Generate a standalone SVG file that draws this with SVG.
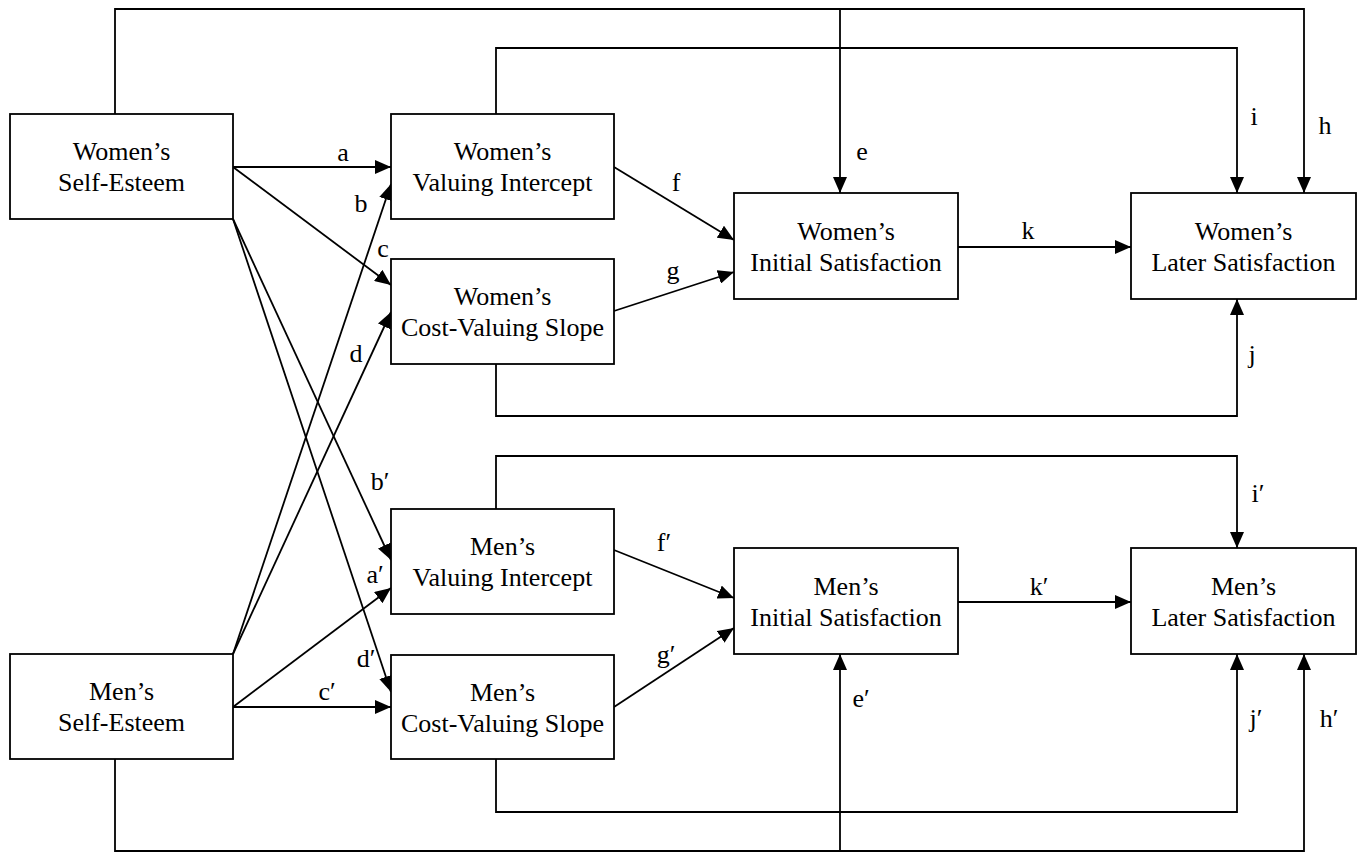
<svg xmlns="http://www.w3.org/2000/svg" width="1360" height="852" viewBox="0 0 1360 852">
<style>
.box{fill:#fff;stroke:#000;stroke-width:1.8}
.t{font-family:"Liberation Serif","Times New Roman",serif;font-size:26px;text-anchor:middle;fill:#000}
.lbl{font-family:"Liberation Serif","Times New Roman",serif;font-size:26px;text-anchor:middle;fill:#000}
.c{fill:none;stroke:#000;stroke-width:1.8}
.a{marker-end:url(#arr)}
</style>
<defs>
<marker id="arr" markerUnits="userSpaceOnUse" markerWidth="16" markerHeight="14" viewBox="0 0 16 14" refX="16" refY="7" orient="auto">
<path d="M0,0 L16,7 L0,14 Z" fill="#000"/>
</marker>
</defs>
<g id="connectors">
<path class="c a" d="M115,114 V9 H1304 V193"/>
<path class="c a" d="M840,9 V193"/>
<path class="c a" d="M496,114 V48 H1237 V193"/>
<path class="c a" d="M496,364 V416 H1237 V299"/>
<path class="c a" d="M496,509 V456 H1237 V548"/>
<path class="c a" d="M496,759 V812 H1237 V654"/>
<path class="c a" d="M115,759 V851 H1304 V654"/>
<path class="c a" d="M840,851 V654"/>
<path class="c a" d="M233,167 L391,167"/>
<path class="c a" d="M233,654 L391,184"/>
<path class="c a" d="M233,167 L391,285"/>
<path class="c a" d="M233,654 L391,312"/>
<path class="c a" d="M233,219 L391,560"/>
<path class="c a" d="M233,707 L391,588"/>
<path class="c a" d="M233,219 L391,692"/>
<path class="c a" d="M233,707 L391,707"/>
<path class="c a" d="M614,167 L734,240"/>
<path class="c a" d="M614,311 L734,272"/>
<path class="c a" d="M614,550 L734,598"/>
<path class="c a" d="M614,707 L734,628"/>
<path class="c a" d="M958,247 H1131"/>
<path class="c a" d="M958,602 H1131"/>
<text class="lbl" x="343" y="161">a</text>
<text class="lbl" x="361" y="212">b</text>
<text class="lbl" x="383" y="257">c</text>
<text class="lbl" x="356" y="362">d</text>
<text class="lbl" x="862" y="160">e</text>
<text class="lbl" x="676" y="191">f</text>
<text class="lbl" x="673" y="279">g</text>
<text class="lbl" x="1325" y="134">h</text>
<text class="lbl" x="1254" y="125">i</text>
<text class="lbl" x="1252" y="363">j</text>
<text class="lbl" x="1028" y="239">k</text>
<text class="lbl" x="380" y="490">b′</text>
<text class="lbl" x="375" y="583">a′</text>
<text class="lbl" x="366" y="667">d′</text>
<text class="lbl" x="327" y="700">c′</text>
<text class="lbl" x="861" y="707">e′</text>
<text class="lbl" x="664" y="551">f′</text>
<text class="lbl" x="666" y="663">g′</text>
<text class="lbl" x="1329" y="727">h′</text>
<text class="lbl" x="1258" y="502">i′</text>
<text class="lbl" x="1256" y="727">j′</text>
<text class="lbl" x="1039" y="595">k′</text>
</g>
<g id="women-self-esteem">
<rect class="box" x="10" y="114" width="223" height="105"/>
<text class="t" x="121.5" y="160">Women’s</text>
<text class="t" x="121.5" y="191">Self-Esteem</text>
</g>
<g id="women-valuing-intercept">
<rect class="box" x="391" y="114" width="223" height="105"/>
<text class="t" x="502.5" y="160">Women’s</text>
<text class="t" x="502.5" y="191">Valuing Intercept</text>
</g>
<g id="women-cost-valuing-slope">
<rect class="box" x="391" y="259" width="223" height="105"/>
<text class="t" x="502.5" y="305">Women’s</text>
<text class="t" x="502.5" y="336">Cost-Valuing Slope</text>
</g>
<g id="women-initial-satisfaction">
<rect class="box" x="734" y="193" width="224" height="106"/>
<text class="t" x="846" y="239.5">Women’s</text>
<text class="t" x="846" y="270.5">Initial Satisfaction</text>
</g>
<g id="women-later-satisfaction">
<rect class="box" x="1131" y="193" width="225" height="106"/>
<text class="t" x="1243.5" y="239.5">Women’s</text>
<text class="t" x="1243.5" y="270.5">Later Satisfaction</text>
</g>
<g id="men-valuing-intercept">
<rect class="box" x="391" y="509" width="223" height="105"/>
<text class="t" x="502.5" y="555">Men’s</text>
<text class="t" x="502.5" y="586">Valuing Intercept</text>
</g>
<g id="men-cost-valuing-slope">
<rect class="box" x="391" y="655" width="223" height="104"/>
<text class="t" x="502.5" y="700.5">Men’s</text>
<text class="t" x="502.5" y="731.5">Cost-Valuing Slope</text>
</g>
<g id="men-self-esteem">
<rect class="box" x="10" y="654" width="223" height="105"/>
<text class="t" x="121.5" y="700">Men’s</text>
<text class="t" x="121.5" y="731">Self-Esteem</text>
</g>
<g id="men-initial-satisfaction">
<rect class="box" x="734" y="548" width="224" height="106"/>
<text class="t" x="846" y="594.5">Men’s</text>
<text class="t" x="846" y="625.5">Initial Satisfaction</text>
</g>
<g id="men-later-satisfaction">
<rect class="box" x="1131" y="548" width="225" height="106"/>
<text class="t" x="1243.5" y="594.5">Men’s</text>
<text class="t" x="1243.5" y="625.5">Later Satisfaction</text>
</g>
</svg>
